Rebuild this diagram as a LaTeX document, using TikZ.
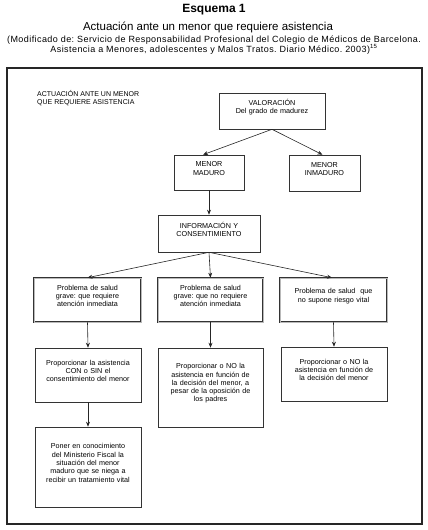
\documentclass[tikz,border=0pt]{standalone}
\usepackage{fontspec}
\setmainfont{Liberation Sans}
\newfontfamily\citafont[LetterSpace=4.8]{Liberation Sans}
\usetikzlibrary{arrows.meta}
\frenchspacing
\tikzset{
	caja/.style={draw=black!80, line width=0.6pt, fill=white, align=center, text width=96pt, inner xsep=2pt, font=\fontsize{7.2}{8.3}\selectfont, execute at end node={\par\vspace{8pt}}},
	problema/.style={caja, draw=black!80, double=gray!55, double distance=1pt, line width=0.6pt},
	flecha/.style={draw=black!85, line width=0.6pt, -{Stealth[length=5pt,width=4pt]}},
	marco/.style={draw=black!85, line width=1.5pt}
}
\begin{document}
\begin{tikzpicture}[x=1pt,y=-1pt]
				\useasboundingbox (0,0) rectangle (428,530);
				% titulo
				\node (tit) at (214,10) {\fontsize{12}{14}\selectfont\bfseries Esquema 1};
				\node (sub) at (208,27) {\fontsize{11.5}{13}\selectfont Actuación ante un menor que requiere asistencia};
				\node [align=center, inner sep=0, font=\citafont\fontsize{9}{10}\selectfont] (ref) at (214,45) {(Modificado de: Servicio de Responsabilidad Profesional del Colegio de Médicos de Barcelona.\\Asistencia a Menores, adolescentes y Malos Tratos. Diario Médico. 2003)\textsuperscript{15}};
				\draw [marco] (7,68) rectangle (422,524);
				\node [anchor=north west, align=left, inner sep=0, font=\fontsize{7}{7.8}\selectfont] (cab) at (37,90) {ACTUACIÓN ANTE UN MENOR\\QUE REQUIERE ASISTENCIA};
				% cajas
				\node [caja, minimum width=106pt, minimum height=36pt] (val) at (272,111) {VALORACIÓN\\Del grado de madurez};
				\node [caja, text width=62pt, minimum width=70pt, minimum height=35pt] (mad) at (209,172.5) {MENOR\\MADURO};
				\node [caja, text width=62pt, minimum width=71pt, minimum height=36pt] (inm) at (324.5,173) {MENOR\\INMADURO};
				\node [caja, minimum width=102pt, minimum height=37pt] (info) at (209,233.5) {INFORMACIÓN Y\\CONSENTIMIENTO};
				\node [problema, minimum width=107pt, minimum height=44pt] (p1) at (87.5,300) {Problema de salud\\grave: que requiere\\atención inmediata};
				\node [problema, minimum width=105pt, minimum height=44pt] (p2) at (210.5,300) {Problema de salud\\grave: que no requiere\\atención inmediata};
				\node [problema, minimum width=107pt, minimum height=44pt] (p3) at (333.5,300) {Problema de salud\ \ que\\no supone riesgo vital};
				\node [caja, minimum width=106pt, minimum height=54pt] (a1) at (88,375) {Proporcionar la asistencia\\CON o SIN el\\consentimiento del menor};
				\node [caja, minimum width=105pt, minimum height=79pt] (a2) at (210.5,387.5) {Proporcionar o NO la\\asistencia en función de\\la decisión del menor, a\\pesar de la oposición de\\los padres};
				\node [caja, minimum width=106pt, minimum height=54pt] (a3) at (334,374) {Proporcionar o NO la\\asistencia en función de\\la decisión del menor};
				\node [caja, minimum width=106pt, minimum height=80pt] (a4) at (88,467) {Poner en conocimiento\\del Ministerio Fiscal la\\situación del menor\\maduro que se niega a\\recibir un tratamiento vital};
				% flechas
				\draw [flecha] (val.south) -- ([xshift=-6pt]mad.north);
				\draw [flecha] (val.south) -- ([xshift=-2pt]inm.north);
				\draw [flecha] (mad.south) -- (info.north);
				\draw [flecha] (info.south) -- (p1.north);
				\draw [flecha] (info.south) -- (p2.north);
				\draw [flecha] (info.south) -- ([xshift=-1.5pt]p3.north);
				\draw [flecha] (p1.south) -- (a1.north);
				\draw [flecha] (p2.south) -- (a2.north);
				\draw [flecha] (p3.south) -- (a3.north);
				\draw [flecha] (a1.south) -- (a4.north);
\end{tikzpicture}
\end{document}
